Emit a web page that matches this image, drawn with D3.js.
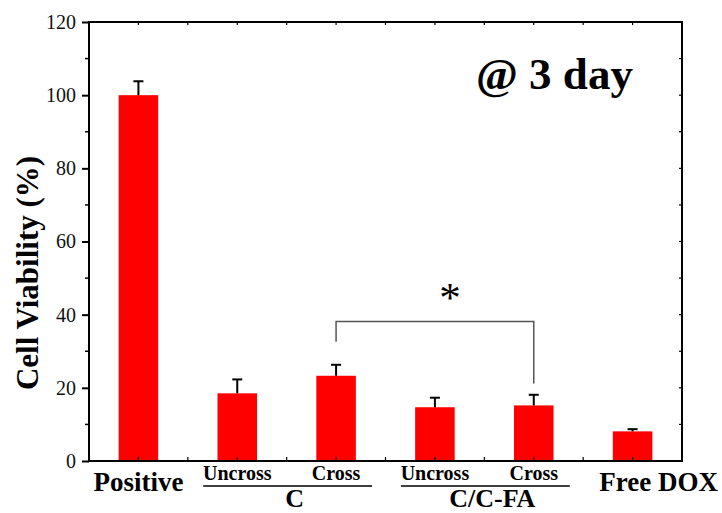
<!DOCTYPE html>
<html>
<head>
<meta charset="utf-8">
<script src="https://cdn.jsdelivr.net/npm/d3@7"></script>
<style>
  html, body { margin: 0; padding: 0; background: #fff; }
  svg { display: block; }
  svg text { font-family: "Liberation Serif", serif; }
</style>
</head>
<body>
<svg id="chart" width="722" height="513"></svg>
<script>
// Cell viability after 3 days of treatment
const categories = ["Positive", "C-Uncross", "C-Cross", "CFA-Uncross", "CFA-Cross", "Free DOX"];
const tickLabels = ["Positive", "Uncross", "Cross", "Uncross", "Cross", "Free DOX"];
const viability = [100, 18.5, 23.3, 14.7, 15.2, 8.1];
const errors = [3.8, 3.8, 3.0, 2.6, 2.9, 0.6];
const groups = [
  { name: "C", members: ["C-Uncross", "C-Cross"] },
  { name: "C/C-FA", members: ["CFA-Uncross", "CFA-Cross"] }
];
const yTicks = [0, 20, 40, 60, 80, 100, 120];
const significance = { from: "C-Cross", to: "CFA-Cross", level: 38.1, leftEnd: 32.6, rightEnd: 21.2, label: "*" };

const FONT = "Liberation Serif";
const svg = d3.select("#chart");
const root = svg.append("g");
const m = { left: 89, right: 682, top: 22, bottom: 461 };

// helper for text in the serif face
function label(parent, txt, px, py, size, bold, anchor) {
  return parent.append("text").attr("x", px).attr("y", py)
    .attr("font-family", FONT).attr("font-size", size)
    .attr("font-weight", bold ? "bold" : "normal")
    .attr("text-anchor", anchor || "middle").attr("fill", "#000").text(txt);
}

const x = d3.scaleBand().domain(categories).range([m.left, m.right])
  .paddingInner(0.6).paddingOuter(0.3);
const y = d3.scaleLinear().domain([0, 120]).range([m.bottom, m.top]);

// Tick positions along x: band centres and band boundaries
const step = x.step();
const xCenters = categories.map(c => x(c) + x.bandwidth() / 2);
const xBounds = categories.slice(1).map(c => x(c) + x.bandwidth() / 2 - step / 2);

// Bars
root.append("g").selectAll("rect").data(categories).join("rect")
  .attr("x", c => x(c))
  .attr("y", (c, i) => y(viability[i]))
  .attr("width", x.bandwidth())
  .attr("height", (c, i) => y(0) - y(viability[i]))
  .attr("fill", "#ff0000");

// Upper error bars
const eb = root.append("g").attr("stroke", "#000").attr("stroke-width", 2);
categories.forEach((c, i) => {
  const cx = x(c) + x.bandwidth() / 2;
  eb.append("line").attr("x1", cx).attr("x2", cx)
    .attr("y1", y(viability[i])).attr("y2", y(viability[i] + errors[i]));
  eb.append("line").attr("x1", cx - 5).attr("x2", cx + 5)
    .attr("y1", y(viability[i] + errors[i])).attr("y2", y(viability[i] + errors[i]));
});

// Left axis (outward ticks)
const yAxis = d3.axisLeft(y).tickValues(yTicks).tickSize(7).tickPadding(6).tickSizeOuter(0);
const gy = root.append("g").attr("transform", `translate(${m.left},0)`).call(yAxis);
gy.attr("font-family", FONT);
gy.select(".domain").remove();
gy.selectAll(".tick line").attr("stroke", "#000").attr("stroke-width", 2);
gy.selectAll(".tick text").attr("font-family", FONT).attr("font-size", 20).attr("fill", "#111");
// minor left ticks
root.append("g").selectAll("line").data(d3.range(10, 120, 20)).join("line")
  .attr("x1", m.left - 4).attr("x2", m.left)
  .attr("y1", d => y(d)).attr("y2", d => y(d))
  .attr("stroke", "#000").attr("stroke-width", 1.5);

// Right axis: small inward ticks
root.append("g").selectAll("line").data(d3.range(10, 120, 10)).join("line")
  .attr("x1", m.right - 3).attr("x2", m.right)
  .attr("y1", d => y(d)).attr("y2", d => y(d))
  .attr("stroke", "#000").attr("stroke-width", 1.2);

// Top and bottom inward ticks
const xt = root.append("g").attr("stroke", "#000");
xCenters.concat(xBounds).forEach(px => {
  xt.append("line").attr("x1", px).attr("x2", px)
    .attr("y1", m.bottom).attr("y2", m.bottom - 4).attr("stroke-width", 1.2);
  xt.append("line").attr("x1", px).attr("x2", px)
    .attr("y1", m.top).attr("y2", m.top + 3).attr("stroke-width", 1.2);
});

// Frame
root.append("rect").attr("x", m.left).attr("y", m.top)
  .attr("width", m.right - m.left).attr("height", m.bottom - m.top)
  .attr("fill", "none").attr("stroke", "#000").attr("stroke-width", 2);

// Category labels
categories.forEach((c, i) => {
  const last = i === categories.length - 1;
  const big = (i === 0 || last);
  label(root, tickLabels[i], xCenters[i] + (last ? 26 : 0), big ? 491 : 480, big ? 27 : 20, true);
});

// Group labels with underline
groups.forEach(g => {
  const a = x(g.members[0]) + x.bandwidth() / 2;
  const b = x(g.members[1]) + x.bandwidth() / 2;
  root.append("line").attr("x1", a - 34).attr("x2", b + 36)
    .attr("y1", 486).attr("y2", 486).attr("stroke", "#000").attr("stroke-width", 1.5);
  label(root, g.name, (a + b) / 2 + 8, 507, 26, true);
});

// Significance bracket
{
  const i1 = categories.indexOf(significance.from), i2 = categories.indexOf(significance.to);
  const x1 = xCenters[i1], x2 = xCenters[i2];
  root.append("path")
    .attr("d", `M${x1},${y(significance.leftEnd)}V${y(significance.level)}H${x2}V${y(significance.rightEnd)}`)
    .attr("fill", "none").attr("stroke", "#555").attr("stroke-width", 1.5);
  label(root, significance.label, (x1 + x2) / 2 + 15, 312, 43, false);
}

// Y axis title
label(root, "Cell Viability (%)", 0, 0, 31, true)
  .attr("transform", `translate(38,273) rotate(-90)`);

// Time point annotation
label(root, "@ 3 day", 476, 89, 45, true, "start");
</script>
</body>
</html>
